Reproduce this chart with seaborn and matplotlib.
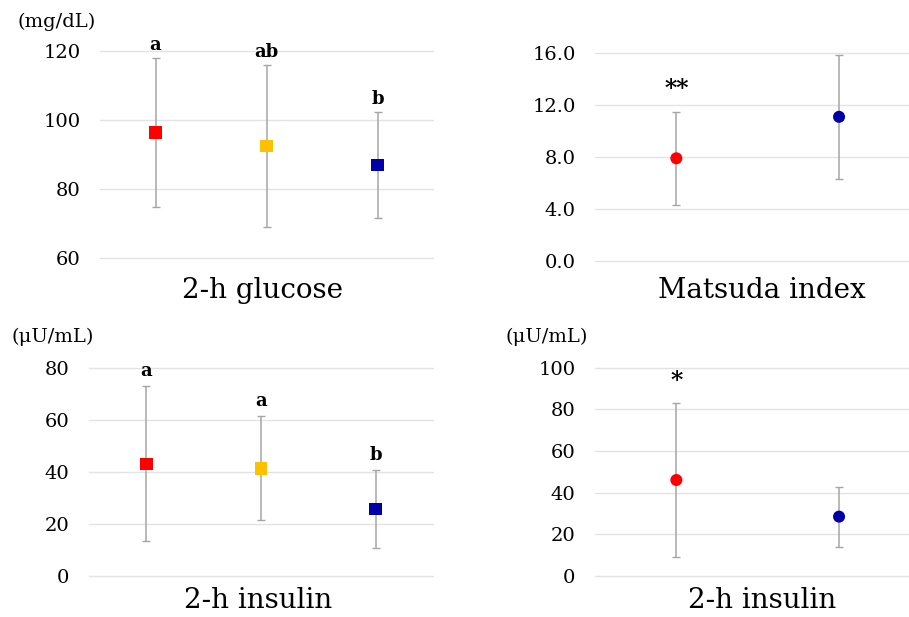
import seaborn as sns
import matplotlib.pyplot as plt
import pandas as pd

sns.set_style("white")
plt.rcParams['font.family'] = ['DejaVu Serif', 'DejaVu Sans']
plt.rcParams['text.color'] = 'black'
plt.rcParams['ytick.color'] = 'black'

# 2-h glucose, three groups
glu_groups = ["G1", "G2", "G3"]
glu_mean = [96.4, 92.4, 87.0]
glu_sd = [21.5, 23.5, 15.3]
glu_letters = ["a", "ab", "b"]

# Matsuda index, two groups
mat_groups = ["G1", "G3"]
mat_mean = [7.9, 11.1]
mat_sd = [3.6, 4.8]
mat_letters = ["**", ""]

# 2-h insulin, three groups
ins3_groups = ["G1", "G2", "G3"]
ins3_mean = [43.0, 41.3, 25.6]
ins3_sd = [29.8, 20.0, 15.0]
ins3_letters = ["a", "a", "b"]

# 2-h insulin, two groups
ins2_groups = ["G1", "G3"]
ins2_mean = [46.0, 28.4]
ins2_sd = [37.0, 14.4]
ins2_letters = ["*", ""]

colors = {"G1": "#FF0000", "G2": "#FFC000", "G3": "#0000A8"}

W, H = 909, 617
fig = plt.figure(figsize=(W / 100, H / 100), dpi=100)


def px_axes(x0, x1, ytop, ybot):
    return fig.add_axes([x0 / W, 1 - ybot / H, (x1 - x0) / W, (ybot - ytop) / H])


def panel(ax, groups, mean, sd, letters, marker, ylim, yticks, fmt, xlim, lab_off):
    df = pd.DataFrame({"x": range(len(groups)), "y": mean, "g": groups})
    ax.errorbar(df["x"], df["y"], yerr=sd, fmt="none", ecolor="#A6A6A6",
                elinewidth=1.1, capsize=3, capthick=1.0, zorder=2)
    sns.scatterplot(data=df, x="x", y="y", hue="g", palette=colors, marker=marker,
                    s=80 if marker == "s" else 75, edgecolor="none", legend=False,
                    ax=ax, zorder=3, clip_on=False)
    for i in range(len(groups)):
        if letters[i]:
            star = "*" in letters[i]
            ax.text(i, mean[i] + sd[i] + lab_off, letters[i], ha="center", va="bottom",
                    fontsize=17 if star else 13, fontweight="bold", clip_on=False)
    ax.set_xlim(*xlim)
    ax.set_ylim(*ylim)
    ax.set_yticks(yticks)
    ax.set_yticklabels([fmt.format(v) for v in yticks], fontsize=14)
    ax.set_xticks([])
    ax.set_xlabel("")
    ax.set_ylabel("")
    ax.grid(axis="y", color="#E3E3E3", linewidth=1.0)
    for line in ax.get_ygridlines():
        line.set_clip_on(False)
    ax.set_axisbelow(True)
    ax.tick_params(axis="y", length=0, pad=14)
    for s in ax.spines.values():
        s.set_visible(False)


ax1 = px_axes(100, 433, 51, 258)
panel(ax1, glu_groups, glu_mean, glu_sd, glu_letters, "s", (60, 120),
      [60, 80, 100, 120], "{:.0f}", (-0.5, 2.5), 1.2)

ax2 = px_axes(595, 909, 53.3, 260.7)
panel(ax2, mat_groups, mat_mean, mat_sd, mat_letters, "o", (0, 16),
      [0, 4, 8, 12, 16], "{:.1f}", (-0.5, 1.43), 0.8)

ax3 = px_axes(89, 433, 367.7, 575.7)
panel(ax3, ins3_groups, ins3_mean, ins3_sd, ins3_letters, "s", (0, 80),
      [0, 20, 40, 60, 80], "{:.0f}", (-0.5, 2.5), 2.5)

ax4 = px_axes(595, 909, 367.7, 575.7)
panel(ax4, ins2_groups, ins2_mean, ins2_sd, ins2_letters, "o", (0, 100),
      [0, 20, 40, 60, 80, 100], "{:.0f}", (-0.5, 1.43), 5)

fig.text(262 / W, 1 - 290 / H, "2-h glucose", ha="center", va="center", fontsize=20)
fig.text(762 / W, 1 - 290 / H, "Matsuda index", ha="center", va="center", fontsize=20)
fig.text(258 / W, 1 - 601 / H, "2-h insulin", ha="center", va="center", fontsize=20)
fig.text(762 / W, 1 - 600 / H, "2-h insulin", ha="center", va="center", fontsize=20)

fig.text(57 / W, 1 - 22 / H, "(mg/dL)", ha="center", va="center", fontsize=14)
fig.text(53 / W, 1 - 337 / H, "(μU/mL)", ha="center", va="center", fontsize=14)
fig.text(547 / W, 1 - 337 / H, "(μU/mL)", ha="center", va="center", fontsize=14)

fig.savefig("out.png", dpi=100, facecolor="white")
